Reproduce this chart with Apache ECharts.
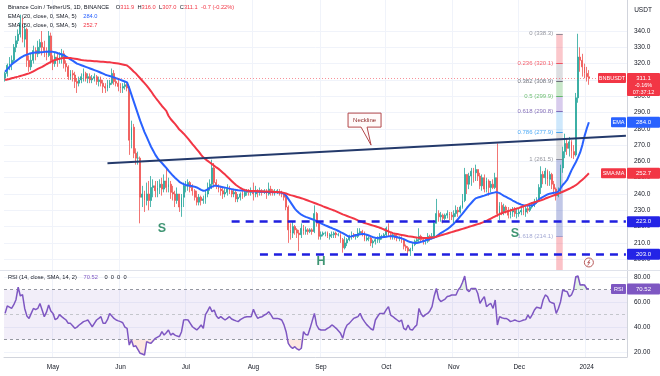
<!DOCTYPE html>
<html>
<head>
<meta charset="utf-8">
<script src="https://cdn.jsdelivr.net/npm/echarts@6/dist/echarts.min.js"></script>
<style>
html, body { margin: 0; padding: 0; background: #fff; }
#chart { width: 660px; height: 376px; }
</style>
</head>
<body>
<div id="chart"></div>
<script>
// daily BNB/USDT candles, 2023-04-09 .. 2024-01-02 (open = previous close)
const startDate = '2023-04-09'
const futureDays = 17
const firstOpen = 311
const dayChange = -0.7
const dayChangePct = -0.22

const closes = [
  314,319,320,322,330,334,338,345,335,341,
  322,318,322,328,326,330,333,330,328,325,
  337,322,320,324,322,324,326,320,318,312,
  314,313,309,308,310,312,314,311,312,310,
  311,312,309,310,308,306,305,307,308,314,
  309,308,306,305,306,307,305,273,281,265,
  262,262,238,240,236,240,236,244,245,242,
  244,246,243,248,244,246,241,240,236,240,
  232,238,245,245,247,244,242,238,235,238,
  236,237,240,244,246,256,247,245,243,242,
  240,241,243,242,240,241,237,238,240,239,
  241,242,241,242,240,242,241,242,241,242,
  240,243,242,241,241,242,241,240,238,232,
  218,216,220,218,216,215,219,217,218,217,
  218,217,228,222,214,215,216,216,214,215,
  215,216,215,215,212,207,210,212,214,215,
  214,214,216,217,216,212,213,213,210,211,
  212,212,214,214,215,219,215,214,215,214,
  213,213,212,208,207,205,206,209,211,212,
  214,212,211,211,214,213,214,222,228,226,
  227,225,227,228,227,226,228,230,229,232,
  236,252,246,251,254,253,255,251,245,250,
  243,248,244,246,244,250,228,233,229,232,
  230,227,229,230,228,228,229,230,229,231,
  230,232,233,235,236,244,252,250,254,249,
  252,246,243,239,241,256,266,271,268,272,
  266,264,299,324,322,318,314,311.9,311.1
]
const highs = [
  315,320,324,325,332,337,341,350,348,344,
  342,325,326,331,330,334,335,340,334,330,
  340,339,325,327,326,327,329,328,322,319,
  316,316,315,311,312,314,317,315,314,314,
  313,314,313,312,312,310,308,310,310,317,
  316,311,310,308,308,309,308,306,285,283,
  268,266,263,245,242,247,248,251,249,248,
  248,249,250,252,256,250,248,245,242,244,
  240,240,247,248,249,248,246,243,242,240,
  239,239,242,247,249,261,259,249,246,245,
  244,244,246,245,243,243,242,240,241,242,
  243,243,243,244,247,245,243,244,243,243,
  243,247,245,243,243,243,243,242,241,239,
  233,222,223,221,219,218,222,221,220,219,
  219,219,233,229,223,217,217,217,217,216,
  217,217,217,216,216,213,214,213,215,217,
  216,215,219,219,218,217,215,214,214,212,
  213,214,216,215,216,220,222,216,216,216,
  216,214,214,213,209,208,207,210,212,213,
  219,215,213,213,216,215,216,224,237,230,
  229,228,228,230,229,229,230,233,232,233,
  240,256,252,253,256,256,258,255,253,252,
  252,250,249,248,249,253,271,235,235,234,
  233,232,231,232,232,231,231,232,232,233,
  233,234,235,237,238,246,257,254,256,255,
  254,253,248,244,244,258,269,277,274,275,
  273,270,302,338.3,330,326,320,318,316
]
const lows = [
  309,312,316,316,320,327,332,336,333,330,
  318,315,316,320,322,324,326,325,324,322,
  324,320,316,318,318,320,320,317,315,310,
  310,309,305,302,306,308,309,309,308,308,
  308,309,307,306,306,302,302,303,305,307,
  307,306,303,302,302,304,303,264,268,262,
  258,258,222,232,229,233,230,232,238,238,
  238,240,239,241,241,241,237,236,232,234,
  229,226,232,241,242,241,239,236,233,233,
  233,234,234,238,242,243,244,243,241,239,
  237,238,239,240,238,238,235,235,236,237,
  238,239,239,239,236,238,238,239,239,240,
  237,239,239,239,239,240,239,238,236,230,
  210,212,213,215,213,205,213,215,215,215,
  216,215,216,220,212,212,214,214,213,212,
  213,213,213,214,210,204,206,208,211,212,
  213,212,213,215,214,211,211,211,208,207,
  209,210,210,212,213,214,214,212,212,212,
  211,211,210,206,205,203,202,205,208,210,
  210,210,209,209,210,211,212,213,222,223,
  223,222,224,225,224,224,222,226,226,228,
  231,235,240,243,245,247,248,248,243,242,
  241,241,239,241,243,243,226,224,227,227,
  228,225,225,226,226,225,226,227,227,226,
  228,229,231,232,234,235,240,246,246,245,
  245,243,240,236,238,240,253,262,264,263,
  262,261.5,263,296,315,312,311,309,307
]
const ema20 = [
  315,316.5,318,319.5,320.5,321.5,322.5,323.5,324.3,325,
  325.5,326,326.3,326.6,326.8,327,327,327,327.2,327.3,
  327.4,327.3,327.2,327,326.5,326,325.6,325.2,324.3,323.5,
  322.6,321.8,320.9,320,319.5,319,318.5,318,317.5,317,
  316.5,316,315.5,315,314.4,313.8,313.2,312.8,312.4,312,
  311.5,311,310.6,310,309.5,309,308.5,305,301,297,
  293,289,285,281.5,278,275,272,269,266.5,264,
  262,260.3,259,257.5,256,254.3,252.8,251.3,250,248.8,
  247.5,246.7,246,245.5,245.2,245,244.8,244.5,244,243.3,
  242.5,242,242.2,242.8,243.7,244.5,245,245,244.8,244.5,
  244.2,243.9,243.6,243.3,243,242.7,242.5,242.3,242.2,242.1,
  242,241.9,241.8,241.7,241.6,241.5,241.5,241.4,241.4,241.3,
  241.3,241.2,241.2,241.1,241,241,240.9,240.7,240.3,239,
  237,235,233,231,229.5,228.3,227.3,226.6,226,225.5,
  225,224.5,224,223.4,222.7,222,221.4,220.8,220.2,219.6,
  219.1,218.5,218,217.3,216.6,216,215.2,214.4,213.8,214,
  214.4,214.8,215,215.3,215.5,215.4,215,214.5,214,213.5,
  213.2,213,213.2,213.4,213.6,213.8,214,214,214,213.8,
  213.5,213.2,212.8,212.3,211.7,211,210.5,210.2,210,210,
  210.2,210.6,211,211.5,212,212.4,212.8,213.3,214,215,
  216,216.8,217.6,218.4,219.5,220.6,221.8,223.2,224.8,226.4,
  228,229.7,231.4,233,234.5,236,237.3,237.8,238.2,238.6,
  239,239.5,240,240.4,240.7,241,241,240.5,239.7,238.9,
  238.2,237.5,236.8,236,235.3,234.6,234,233.5,233.1,233,
  232.9,232.9,233,233.6,235,236.5,237.5,238.3,239,239.7,
  240.2,240.5,240.7,240.8,241.5,243.5,245.5,247,248.6,251.5,
  254.5,257,259.5,262.3,265.5,270,275.5,280,284
]
const sma50 = [
  310,310.3,310.6,311,311.3,311.7,312,312.4,312.8,313.2,
  313.6,314,314.6,315.3,316,316.7,317.4,318,318.8,319.6,
  320.3,321,321.8,322.3,322.7,323,323.3,323.5,323.5,323.5,
  323.4,323.2,323,322.8,322.5,322.2,322,321.9,321.8,321.7,
  321.6,321.5,321.4,321.3,321.2,321.1,321,320.9,320.8,320.6,
  320.4,320.2,320,319.8,319.5,319.2,318.8,317.8,316.5,315.2,
  314,312.5,311,309.5,308,306.5,304.8,303,301,299.2,
  297.5,295.7,294,292.5,291,288,286,284.5,283,281.3,
  279.5,278.3,277,275.5,274,272.3,270.6,269,267.4,265.8,
  264,262.5,261.4,260.3,259.3,258.3,257.3,256.3,255.4,254.3,
  253.1,251.9,250.6,249.3,248,246.7,245.5,244.6,243.7,243,
  242.5,242.2,242,241.9,241.8,241.8,241.7,241.7,241.6,241.6,
  241.5,241.5,241.4,241.3,241.3,241.2,241.1,241,240.7,240.3,
  239.8,239.3,239,238.6,238.2,237.8,237.4,237,236.5,236,
  235.5,235,234.5,234,233.5,233,232.4,231.9,231.4,230.9,
  230.4,229.9,229.3,228.7,228.1,227.5,227,226.5,226,225.5,
  225,224.4,223.8,223.3,222.8,222.2,221.8,221.4,221,220.6,
  220.2,219.8,219.3,218.8,218.2,217.6,217.1,216.5,216,215.7,
  215.4,215.1,214.9,214.7,214.4,214.1,213.9,213.7,213.5,213.3,
  213.2,213.1,213,213,213,213.1,213.3,213.5,213.8,214.2,
  214.6,215,215.4,215.8,216.2,216.6,217,217.4,217.8,218.2,
  218.6,219,219.4,219.9,220.3,220.7,221.1,221.5,221.9,222.4,
  222.9,223.5,224.2,224.9,225.6,226.3,227,227.7,228.2,228.7,
  229.1,229.5,229.9,230.3,230.7,231.1,231.5,232,232.5,233,
  233.5,234,234.5,234.9,235.3,235.7,236.1,236.6,237.2,237.7,
  238.2,238.7,239.2,239.7,240.2,240.8,241.4,242,242.6,243.2,
  243.9,244.6,245.4,246.4,247.6,248.8,250,251.3,252.7
]
const rsi14 = [
  51,57,56,55,58,62,72,65,66,55,
  49,47,51,55,54,55,59,53.7,48.4,52,
  57.8,53,51,46,47,50,48.4,47,45.7,43,
  43,41,39,40,41.7,43,44.4,45,45.7,43,
  40.3,43,45.7,47,48.4,43,43,46,51,49,
  47,45.7,45,44.4,43.5,40,39,25.6,29.6,24.3,
  25,22,19,18.4,17.6,28.3,27.5,27,29,31,
  32,33,36.3,33.6,35.5,37.7,33.6,35,33.6,32.8,
  32.3,36.3,45.7,46,45.7,43,40.3,39,37.7,39.5,
  41.7,39,50,53,56.4,52.4,53.7,49,47,48.4,
  47,45.7,47,48.4,46.5,45.7,45,44.4,46,47,
  48,48.4,48.4,48.4,54.3,50,47,48,48.4,49.7,
  50.5,52.4,50,47,47,47,46.5,45.7,42,36.3,
  27,24.3,23,24.3,22.5,21.6,23,36.3,34,33.6,
  39,45,51,41.7,38.5,37.7,37.7,37.7,39,40,
  41.7,40.5,39,37,35,31,38,41.7,43,45,
  47,47.7,48.4,51,47,44.4,42,40.3,38.5,37.7,
  45.7,48.5,51,51,51,54,56.4,49.7,48.5,47,
  45.7,44.4,45.7,39,37.7,41.7,38,37.7,40,41.7,
  55,50.5,48.4,50,51,53,56.4,65,71,63,
  60.4,61.5,62.5,64.5,65,65.8,65.8,65.8,69.8,72,
  76,81,70,68.5,71,71,71,67,59,62,
  64.5,56.4,58,59,55,61.8,41.7,48.4,47.5,47,
  47,46,44.4,45,45.7,45,44.4,45,45.7,46,
  49.7,47,50,53.7,56,55.5,55,62,65.8,64.5,
  60.4,59.5,59,51,55,60.4,69.8,69,68.5,64.5,
  65.8,70,80.5,81,73.8,74,73.8,71,70.52
]

const priceTicks = [200, 210, 220, 230, 240, 250, 260, 270, 280, 290, 300, 310, 320, 330, 340]
const rsiTicks = [20, 40, 60, 80]
const rsiBands = [30, 70]
const fibNames = ['0', '0.236', '0.382', '0.5', '0.618', '0.786', '1', '1.618']
const fibPrices = [338.3, 320.1, 308.9, 299.9, 290.8, 277.9, 261.5, 214.1]
const fibText = ['#787b86', '#f23645', '#50535e', '#4caf50', '#6a4fa8', '#2196f3', '#787b86', '#8c93c9']
const fibFill = ['rgba(242,54,69,0.28)', 'rgba(120,123,134,0.25)', 'rgba(76,175,80,0.3)', 'rgba(126,87,194,0.3)',
  'rgba(33,150,243,0.22)', 'rgba(120,123,134,0.25)', 'rgba(63,81,181,0.32)', 'rgba(242,54,69,0.3)']
const supports = [[223.0, 104], [203.0, 117]]
const neckline = [[47, 258.8], [285, 275.7]]
const patternMarks = [['S', 72, 218.5], ['H', 145, 198.3], ['S', 234, 216]]

const months = ['Jan', 'Feb', 'Mar', 'Apr', 'May', 'Jun', 'Jul', 'Aug', 'Sep', 'Oct', 'Nov', 'Dec']
const yMin = 193.37, yMax = 359.02
const FONT = '"Liberation Sans", Arial, sans-serif'

const dates = []
let d = new Date(startDate + 'T00:00:00Z')
for (let i = 0; i < closes.length + futureDays; i++) {
  dates.push(d.toISOString().slice(0, 10))
  d = new Date(+d + 86400000)
}
const last = closes.length - 1
const opens = closes.map((c, i) => (i === 0 ? firstOpen : closes[i - 1]))
const candles = closes.map((c, i) => [opens[i], c, lows[i], highs[i]])
const isMonthStart = (i, v) => v.slice(8) === '01'

// pieces of the RSI outside the 30..70 band, for the soft over-bought / over-sold fills
const osBase = rsi14.map(v => Math.min(v, rsiBands[0]))
const osFill = rsi14.map(v => rsiBands[0] - Math.min(v, rsiBands[0]))
const obBase = rsi14.map(() => rsiBands[1])
const obFill = rsi14.map(v => Math.max(v, rsiBands[1]) - rsiBands[1])

const fibAreas = fibPrices.map((p, i) => [
  { xAxis: dates[253], yAxis: p, itemStyle: { color: fibFill[i] } },
  { xAxis: dates[256], yAxis: i < fibPrices.length - 1 ? fibPrices[i + 1] : yMin }
])
const fibLines = fibPrices.map((p, i) => [
  {
    coord: [dates[253], p], name: fibNames[i] + ' (' + p.toFixed(1) + ')',
    lineStyle: { color: fibText[i], width: 1, type: 'solid', opacity: 0.8 },
    label: { show: true, position: 'start', formatter: '{b}', color: fibText[i], fontSize: 6, fontFamily: FONT, distance: 3 }
  },
  { coord: [dates[256], p] }
])

const chart = echarts.init(document.getElementById('chart'))
const option = {
  animation: false,
  backgroundColor: '#fff',
  textStyle: { fontFamily: FONT },
  grid: [
    { left: 4, right: 33, top: 0, height: 270 },
    { left: 4, right: 33, top: 271, height: 86 }
  ],
  xAxis: [
    {
      type: 'category', gridIndex: 0, data: dates, boundaryGap: true,
      axisLine: { show: false }, axisTick: { show: false }, axisLabel: { show: false },
      splitLine: { show: true, interval: isMonthStart, lineStyle: { color: '#f0f3fa' } }
    },
    {
      type: 'category', gridIndex: 1, data: dates, boundaryGap: true,
      axisLine: { lineStyle: { color: '#d1d4dc' } }, axisTick: { show: false },
      axisLabel: {
        interval: isMonthStart, margin: 7, fontSize: 6.5, color: '#131722',
        formatter: v => (v.slice(5, 7) === '01' ? v.slice(0, 4) : months[+v.slice(5, 7) - 1])
      },
      splitLine: { show: true, interval: isMonthStart, lineStyle: { color: '#f0f3fa' } }
    }
  ],
  yAxis: [
    {
      type: 'value', gridIndex: 0, position: 'right', min: yMin, max: yMax,
      axisLine: { show: true, lineStyle: { color: '#d1d4dc' } },
      axisTick: { show: false, customValues: priceTicks },
      axisLabel: { customValues: priceTicks, formatter: v => v.toFixed(1), fontSize: 6.5, color: '#131722', margin: 7 },
      splitLine: { show: true, lineStyle: { color: '#f0f3fa' } }
    },
    {
      type: 'value', gridIndex: 1, position: 'right', min: 16, max: 85.05,
      axisLine: { show: true, lineStyle: { color: '#d1d4dc' } },
      axisTick: { show: false, customValues: rsiTicks },
      axisLabel: { customValues: rsiTicks, formatter: v => v.toFixed(2), fontSize: 6.5, color: '#131722', margin: 7 },
      splitLine: { show: true, lineStyle: { color: '#f0f3fa' } }
    }
  ],
  series: [
    {
      name: 'fib', type: 'line', data: [], xAxisIndex: 0, yAxisIndex: 0,
      markArea: { silent: true, data: fibAreas },
      markLine: { silent: true, symbol: ['none', 'none'], data: fibLines }
    },
    {
      name: 'BNBUSDT', type: 'candlestick', xAxisIndex: 0, yAxisIndex: 0, data: candles,
      barWidth: '62%',
      itemStyle: { color: '#26a69a', color0: '#ef5350', borderColor: '#26a69a', borderColor0: '#ef5350', borderWidth: 0.8 },
      markLine: {
        silent: true, symbol: ['none', 'none'], label: { show: false },
        data: [
          { yAxis: closes[last], lineStyle: { color: 'rgba(242,54,69,0.55)', width: 1, type: [1, 2] } },
          [
            { coord: [dates[neckline[0][0]], neckline[0][1]], lineStyle: { color: '#243a6b', width: 2, type: 'solid' } },
            { coord: [dates[neckline[1][0]], neckline[1][1]] }
          ],
          ...supports.map(s => [
            { coord: [dates[s[1]], s[0]], lineStyle: { color: '#1f1fe0', width: 2.5, type: [8, 6] } },
            { coord: [dates[dates.length - 1], s[0]] }
          ])
        ]
      }
    },
    {
      name: 'EMA', type: 'line', xAxisIndex: 0, yAxisIndex: 0, data: ema20,
      symbol: 'none', lineStyle: { color: '#2962ff', width: 2 }
    },
    {
      name: 'SMA', type: 'line', xAxisIndex: 0, yAxisIndex: 0, data: sma50,
      symbol: 'none', lineStyle: { color: '#f23645', width: 2 }
    },
    {
      name: 'marks', type: 'scatter', xAxisIndex: 0, yAxisIndex: 0, z: 10,
      data: patternMarks.map(m => ({ value: [dates[m[1]], m[2]], name: m[0] })),
      symbolSize: 1, itemStyle: { color: 'rgba(0,0,0,0)' },
      label: { show: true, position: 'inside', formatter: '{b}', color: '#0f7a50', fontSize: 12.5, fontWeight: 'bold' }
    },
    {
      name: 'osBase', type: 'line', xAxisIndex: 1, yAxisIndex: 1, data: osBase, stack: 'os',
      symbol: 'none', lineStyle: { width: 0 }, silent: true
    },
    {
      name: 'osFill', type: 'line', xAxisIndex: 1, yAxisIndex: 1, data: osFill, stack: 'os',
      symbol: 'none', lineStyle: { width: 0 }, areaStyle: { color: 'rgba(242,120,80,0.25)' }, silent: true
    },
    {
      name: 'obBase', type: 'line', xAxisIndex: 1, yAxisIndex: 1, data: obBase, stack: 'ob',
      symbol: 'none', lineStyle: { width: 0 }, silent: true
    },
    {
      name: 'obFill', type: 'line', xAxisIndex: 1, yAxisIndex: 1, data: obFill, stack: 'ob',
      symbol: 'none', lineStyle: { width: 0 }, areaStyle: { color: 'rgba(76,175,80,0.22)' }, silent: true
    },
    {
      name: 'RSI', type: 'line', xAxisIndex: 1, yAxisIndex: 1, data: rsi14, z: 5,
      symbol: 'none', lineStyle: { color: '#7e57c2', width: 1.5 },
      markArea: { silent: true, itemStyle: { color: 'rgba(126,87,194,0.1)' }, data: [[{ yAxis: rsiBands[1] }, { yAxis: rsiBands[0] }]] },
      markLine: {
        silent: true, symbol: ['none', 'none'], label: { show: false },
        lineStyle: { color: '#9598a1', width: 1, type: [3, 3] },
        data: [{ yAxis: rsiBands[1] }, { yAxis: 50, lineStyle: { color: '#c4c6cc' } }, { yAxis: rsiBands[0] }]
      }
    }
  ]
}
chart.setOption(option)

// axis tags, legend rows and the neckline call-out, placed through the chart's own scales
const py = v => chart.convertToPixel({ yAxisIndex: 0 }, v)
const ry = v => chart.convertToPixel({ yAxisIndex: 1 }, v)
const txt = (x, y, text, fill, size, align) => ({
  type: 'text', z: 100,
  style: { x, y, text, fill, fontSize: size || 6, fontFamily: FONT, align: align || 'center', verticalAlign: 'middle' }
})
const box = (x, y, w, h, fill) => ({ type: 'rect', z: 99, shape: { x, y, width: w, height: h, r: 1 }, style: { fill } })
const valueTag = (y, fill, text) => [box(627, y - 5.5, 33, 11, fill), txt(643.5, y, text, '#fff')]
const nameTag = (y, fill, text, w) => [box(626 - w, y - 5, w, 10, fill), txt(626 - w / 2, y, text, '#fff', 5.5)]
const rich = { t: { fill: '#131722', fontSize: 5.7, fontFamily: FONT } }
const legendRow = (y, text, valColor) => ({
  type: 'text', z: 100,
  style: { x: 8, y, verticalAlign: 'middle', text, rich: Object.assign({ v: { fill: valColor, fontSize: 5.7, fontFamily: FONT } }, rich) }
})

const yLast = py(closes[last])
const yEma = py(ema20[last])
const ySma = py(sma50[last])
const yRsi = ry(rsi14[last])
const tip = chart.convertToPixel({ xAxisIndex: 0, yAxisIndex: 0 }, [dates[168], 270])
const bolt = chart.convertToPixel({ xAxisIndex: 0, yAxisIndex: 0 }, [dates[268], 198])

const graphics = [
  { type: 'line', z: 98, shape: { x1: 0, y1: 270.5, x2: 660, y2: 270.5 }, style: { stroke: '#e0e3eb', lineWidth: 1 } },
  legendRow(7.5, '{t|Binance Coin / TetherUS, 1D, BINANCE}  {t|O}{v|' + opens[last].toFixed(1) + '} {t|H}{v|' + highs[last].toFixed(1) +
    '} {t|L}{v|' + lows[last].toFixed(1) + '} {t|C}{v|' + closes[last].toFixed(1) + '} {v|' + dayChange.toFixed(1) +
    ' (' + dayChangePct.toFixed(2) + '%)}', '#f23645'),
  legendRow(16.5, '{t|EMA (20, close, 0, SMA, 5)}  {v|' + ema20[last].toFixed(1) + '}', '#2962ff'),
  legendRow(25.5, '{t|SMA (50, close, 0, SMA, 5)}  {v|' + sma50[last].toFixed(1) + '}', '#f23645'),
  legendRow(277.5, '{t|RSI (14, close, SMA, 14, 2)}  {v|' + rsi14[last].toFixed(2) + '}  {t|0  0  0  0}', '#7e57c2'),
  txt(643, 10, 'USDT', '#131722', 6.5),
  // neckline call-out
  {
    type: 'polygon', z: 97,
    shape: {
      points: [[tip[0] - 23, tip[1] - 32], [tip[0] + 10, tip[1] - 32], [tip[0] + 10, tip[1] - 18], [tip[0] - 4, tip[1] - 18],
        [tip[0], tip[1]], [tip[0] - 10, tip[1] - 18], [tip[0] - 23, tip[1] - 18]]
    },
    style: { fill: '#fffafa', stroke: '#b2474a', lineWidth: 1 }
  },
  txt(tip[0] - 6.5, tip[1] - 25, 'Neckline', '#8e2a2a', 6),
  // small replay / lightning badge
  { type: 'circle', z: 97, shape: { cx: bolt[0], cy: bolt[1], r: 4.5 }, style: { fill: '#fff', stroke: '#b85a5a', lineWidth: 1 } },
  {
    type: 'polyline', z: 98,
    shape: { points: [[bolt[0] + 1.2, bolt[1] - 3], [bolt[0] - 1.2, bolt[1] + 0.3], [bolt[0] + 1, bolt[1] - 0.3], [bolt[0] - 1.2, bolt[1] + 3]] },
    style: { stroke: '#b85a5a', lineWidth: 0.9, fill: null }
  },
  // price tags
  box(627, yLast - 5, 33, 23, '#f23645'),
  txt(643.5, yLast, closes[last].toFixed(1), '#fff'),
  txt(643.5, yLast + 7, '-0.16%', '#fff', 5.5),
  txt(643.5, yLast + 14, '07:37:12', '#fff', 5.5),
  ...nameTag(yLast, '#f23645', 'BNBUSDT', 28),
  ...valueTag(yEma, '#2962ff', ema20[last].toFixed(1)),
  ...nameTag(yEma, '#2962ff', 'EMA', 15),
  ...valueTag(ySma, '#f23645', sma50[last].toFixed(1)),
  ...nameTag(ySma, '#f23645', 'SMA:MA', 25),
  ...supports.flatMap(s => valueTag(py(s[0]), '#2424e6', s[0].toFixed(1))),
  ...valueTag(yRsi, '#7e57c2', rsi14[last].toFixed(2)),
  ...nameTag(yRsi, '#7e57c2', 'RSI', 15)
]
chart.setOption({ graphic: graphics })
</script>
</body>
</html>
